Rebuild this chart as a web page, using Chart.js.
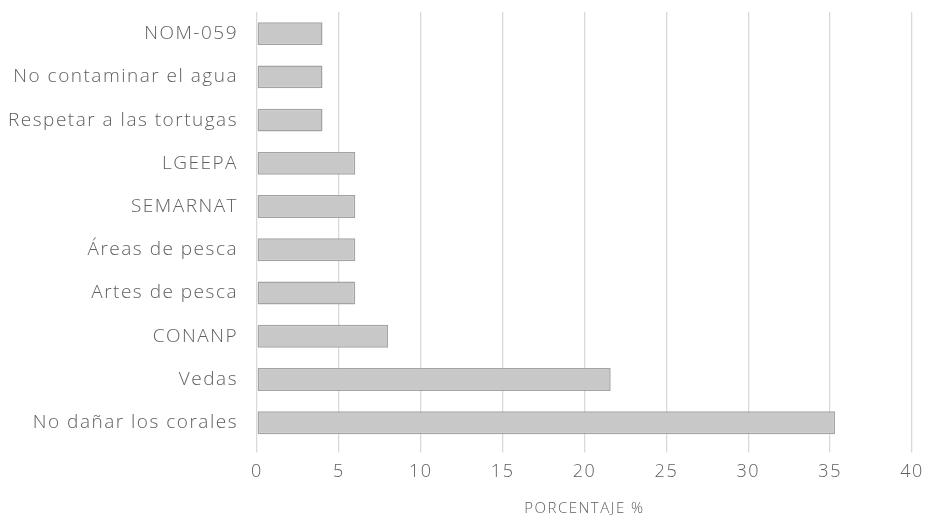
<!DOCTYPE html>
<html>
<head>
<meta charset="utf-8">
<script src="https://cdn.jsdelivr.net/npm/chart.js@4"></script>
<style>
    html, body { margin: 0; padding: 0; background: #ffffff; }
    #wrap { width: 927px; height: 520px; }
</style>
</head>
<body>
<div id="wrap"><canvas id="surveyChart" width="927" height="520"></canvas></div>
<script>
const categories = ['NOM-059', 'No contaminar el agua', 'Respetar a las tortugas', 'LGEEPA', 'SEMARNAT',
    'Áreas de pesca', 'Artes de pesca', 'CONANP', 'Vedas', 'No dañar los corales'];
const percentages = [4, 4, 4, 6, 6, 6, 6, 8, 21.6, 35.3];
const xTicks = [0, 5, 10, 15, 20, 25, 30, 35, 40];

const textGray = '#606060';
const fontFamily = "'Open Sans', 'DejaVu Sans', sans-serif";

// soft grey gradient like the office-style bars
const barFill = (context) => {
    const chart = context.chart;
    const area = chart.chartArea;
    const el = context.element;
    if (!area || !el) return '#c8c8c8';
    const top = el.y - el.height / 2;
    const bottom = el.y + el.height / 2;
    if (!isFinite(top) || !isFinite(bottom)) return '#c8c8c8';
    const g = chart.ctx.createLinearGradient(0, top, 0, bottom);
    g.addColorStop(0, '#d6d6d6');
    g.addColorStop(1, '#bdbdbd');
    return g;
};

// the reference text is loosely spaced; canvas resets drop it, so reapply
const looseText = {
    id: 'looseText',
    beforeLayout(chart) { chart.ctx.letterSpacing = '1.5px'; },
    beforeDraw(chart) { chart.ctx.letterSpacing = '1.5px'; }
};

const ctx = document.getElementById('surveyChart').getContext('2d');
new Chart(ctx, {
    type: 'bar',
    data: {
        labels: categories,
        datasets: [{
            label: 'Porcentaje',
            data: percentages,
            backgroundColor: barFill,
            borderColor: '#a3a3a3',
            borderWidth: 1.5,
            borderSkipped: false,
            categoryPercentage: 0.53,
            barPercentage: 1.0,
        }]
    },
    plugins: [looseText],
    options: {
        responsive: false,
        animation: false,
        indexAxis: 'y',
        layout: { padding: { top: 12, right: 15, left: 0, bottom: 2 } },
        scales: {
            x: {
                min: 0,
                max: 40,
                afterBuildTicks: (axis) => { axis.ticks = xTicks.map(v => ({ value: v })); },
                afterFit: (axis) => { axis.paddingLeft = 0; axis.paddingRight = 0; },
                grid: { color: '#d9d9d9', lineWidth: 1.3, tickLength: 8 },
                border: { display: false },
                ticks: {
                    color: textGray,
                    padding: 9,
                    font: { family: fontFamily, size: 18, weight: 300 }
                },
                title: {
                    display: true,
                    text: 'PORCENTAJE %',
                    color: textGray,
                    padding: { top: 8, bottom: 0 },
                    font: { family: fontFamily, size: 15, weight: 300 }
                }
            },
            y: {
                afterFit: (axis) => { axis.width = 257; axis.paddingTop = 0; axis.paddingBottom = 0; },
                grid: { display: false, drawTicks: false },
                border: { display: false },
                ticks: {
                    color: textGray,
                    padding: 19,
                    font: { family: fontFamily, size: 19, weight: 300 }
                }
            }
        },
        plugins: {
            legend: { display: false },
            tooltip: { enabled: false }
        }
    }
});
</script>
</body>
</html>
